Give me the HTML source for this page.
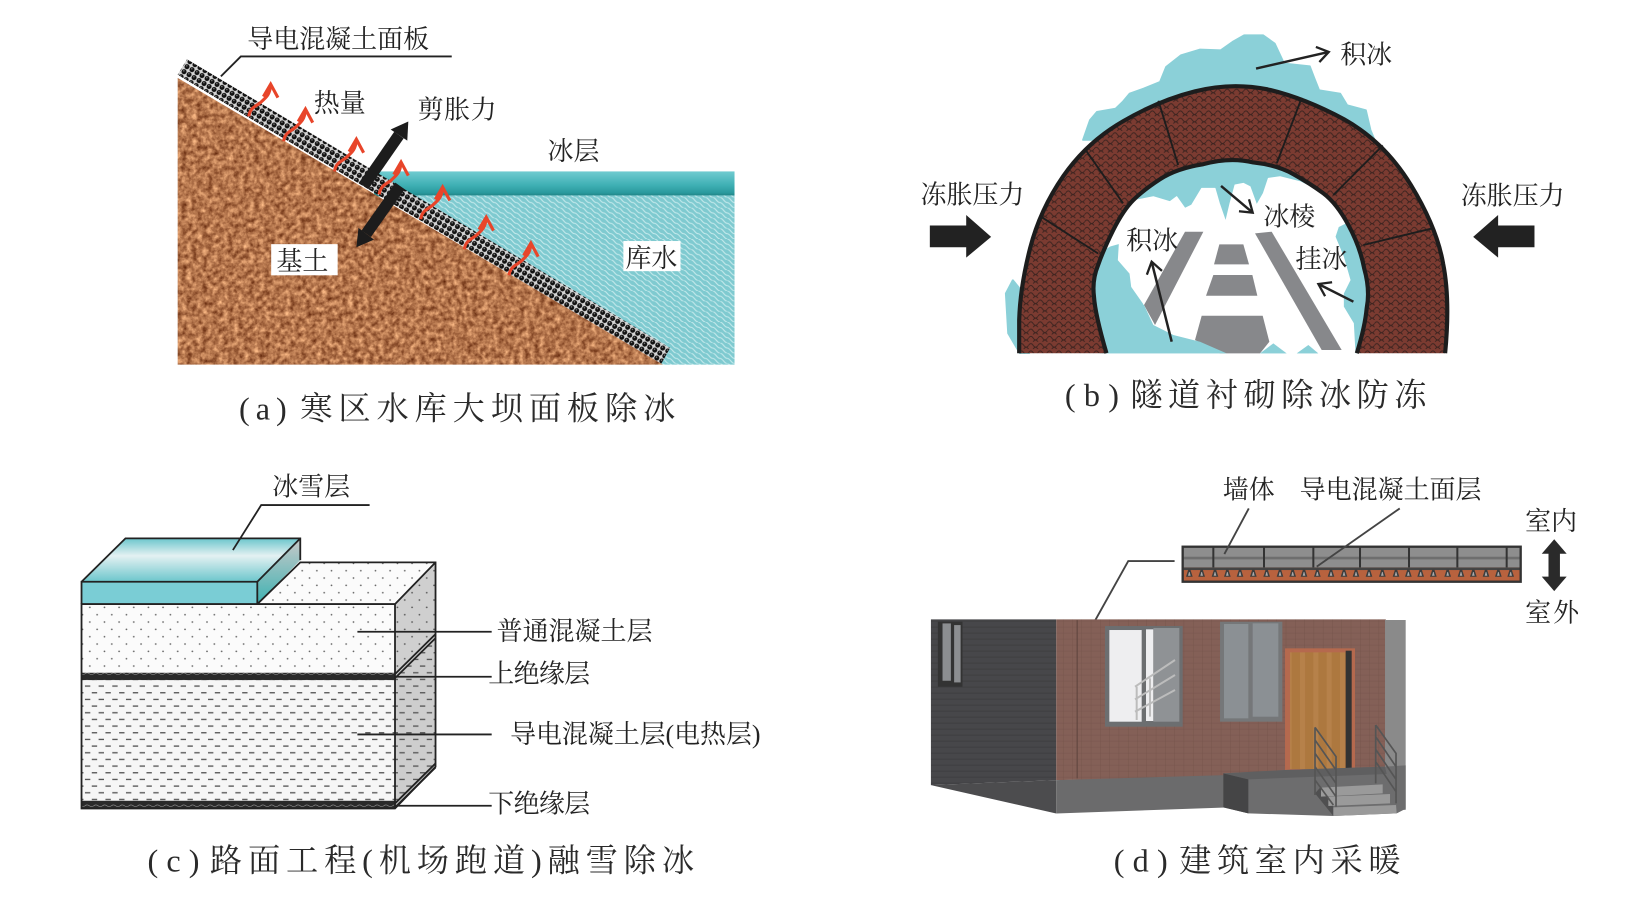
<!DOCTYPE html>
<html lang="zh"><head><meta charset="utf-8"><title>导电混凝土应用</title>
<style>
html,body{margin:0;padding:0;background:#fff;width:1628px;height:900px;overflow:hidden}
svg{display:block}
text{font-family:"Liberation Serif","Noto Serif CJK SC",serif;fill:#222;font-size:25px}
.cap{font-size:31px;fill:#2a2a2a}
.n{vector-effect:non-scaling-stroke}
</style></head><body>
<svg width="1628" height="900" viewBox="0 0 1567 866.3" xmlns="http://www.w3.org/2000/svg">
<defs>
<filter id="soil" x="0" y="0" width="100%" height="100%" color-interpolation-filters="sRGB">
<feTurbulence type="fractalNoise" baseFrequency=".2" numOctaves="3" seed="4"/>
<feColorMatrix values=".75 0 0 0 .33  .72 0 0 0 .1  .6 0 0 0 0  0 0 0 0 1"/>
<feComposite in2="SourceAlpha" operator="in"/>
</filter>
<pattern id="water" width="14" height="10" patternUnits="userSpaceOnUse">
<rect width="14" height="10" fill="#7fcad0"/>
<path d="M0,0C3,0 4,5 7,5S11,10 14,10M7,0C10,0 11,5 14,5M0,5C3,5 4,10 7,10" fill="none" stroke="#c5eaec" stroke-width="1"/>
</pattern>
<pattern id="dots" width="5.6" height="5.6" patternUnits="userSpaceOnUse" patternTransform="rotate(30.6)">
<rect width="5.6" height="5.6" fill="#d5d5d5"/>
<circle cx="2.8" cy="2.8" r="2.4" fill="#111"/>
<circle cx="2.2" cy="2.2" r=".7" fill="#888"/>
</pattern>
<pattern id="brick" width="9" height="7" patternUnits="userSpaceOnUse">
<rect width="9" height="7" fill="#7b3b31"/>
<path d="M0 3.500q2.200-3.500 4.500 0t4.500 0M-4.500 7q2.200-3.500 4.500 0t4.500 0 4.500 0" fill="none" stroke="#3d2420" stroke-width=".9"/>
</pattern>
<pattern id="cdots" width="30" height="44" patternUnits="userSpaceOnUse">
<rect width="30" height="44" fill="#fbfbfb"/>
<ellipse cx="7" cy="10" rx="1.8" ry="2.6" fill="#666"/>
<ellipse cx="22" cy="32" rx="1.8" ry="2.6" fill="#666"/>
</pattern>
<pattern id="sdots" width="30" height="44" patternUnits="userSpaceOnUse">
<rect width="30" height="44" fill="#cfcfcf"/>
<ellipse cx="7" cy="10" rx="1.8" ry="2.6" fill="#555"/>
<ellipse cx="22" cy="32" rx="1.8" ry="2.6" fill="#555"/>
</pattern>
<pattern id="dash" width="28" height="40" patternUnits="userSpaceOnUse">
<rect width="28" height="40" fill="#f6f6f6"/>
<rect x="2" y="6" width="11" height="4" fill="#555"/>
<rect x="16" y="26" width="11" height="4" fill="#555"/>
</pattern>
<pattern id="sdash" width="28" height="40" patternUnits="userSpaceOnUse">
<rect width="28" height="40" fill="#cdcdcd"/>
<rect x="2" y="6" width="11" height="4" fill="#555"/>
<rect x="16" y="26" width="11" height="4" fill="#555"/>
</pattern>
<pattern id="band" width="18" height="22" patternUnits="userSpaceOnUse">
<rect width="18" height="22" fill="#2a2a2a"/>
<path d="M0 11q4.500-5 9 0t9 0" fill="none" stroke="#aaa" stroke-width="1.500"/>
</pattern>
<pattern id="bw" width="20" height="18" patternUnits="userSpaceOnUse">
<rect width="20" height="18" fill="#846057"/>
<path d="M0 9H20M10 0V18" stroke="#74544b" stroke-width="1"/>
</pattern>
<pattern id="dw" width="20" height="18" patternUnits="userSpaceOnUse">
<rect width="20" height="18" fill="#47474a"/>
<path d="M0 9H20" stroke="#3a3a3c" stroke-width="2"/>
</pattern>
<pattern id="doorp" width="40" height="20" patternUnits="userSpaceOnUse">
<rect width="40" height="20" fill="#ad783f"/><rect x="0" width="15" height="20" fill="#b6814a"/>
</pattern>
<linearGradient id="ice1" x1="0" y1="0" x2="0" y2="1">
<stop offset="0" stop-color="#70cbd0"/><stop offset=".55" stop-color="#3fb0b4"/><stop offset=".85" stop-color="#2a9a9e"/><stop offset="1" stop-color="#1e7f80"/>
</linearGradient>
<linearGradient id="ice2" x1="0" y1="0" x2="0" y2="1">
<stop offset="0" stop-color="#6cc6cc"/><stop offset=".4" stop-color="#e4f1f2"/><stop offset="1" stop-color="#6cc6cc"/>
</linearGradient>
<linearGradient id="ice3" x1="0" y1="0" x2="0" y2="1">
<stop offset="0" stop-color="#c9c9c9"/><stop offset="1" stop-color="#3db2b2"/>
</linearGradient>
<g id="heat" fill="none" stroke="#e8452a" stroke-width="3">
<path d="M0 0C1-9 8-10 12-14C16-18 20-20 21-30"/><path d="M14-19L21-31L28-18"/>
</g>
<g id="tri"><polygon points="-10,140 -3,118 3,118 10,140" fill="#3d3d3d"/><polygon points="-4,137 -1,126 1,126 4,137" fill="#a9a9a9"/></g>
<marker id="oh" markerWidth="18" markerHeight="18" refX="14" refY="9" orient="auto" markerUnits="userSpaceOnUse">
<path d="M3 1.500L14 9L3 16.500" fill="none" stroke="#222" stroke-width="2.200"/>
</marker>
</defs>

<!-- Panel a -->
<rect x="360" y="165" width="347" height="24" fill="url(#ice1)"/>
<polygon points="380,188 707,188 707,351 630,351" fill="url(#water)"/>
<polygon points="171,72 636,351 645,335 180,57" fill="url(#dots)"/>
<polygon points="171,75 638,351 171,351" fill="#b5794f" filter="url(#soil)"/>
<polyline points="212.600,73.500 231.800,54.300 434.800,54.300" fill="none" stroke="#222" stroke-width="1.800"/>
<use href="#heat" x="239.500" y="112"/><use href="#heat" x="273" y="136"/><use href="#heat" x="322" y="165"/><use href="#heat" x="365" y="187"/><use href="#heat" x="405" y="211"/><use href="#heat" x="447" y="240"/><use href="#heat" x="490" y="265"/>
<line x1="350" y1="179" x2="384" y2="130" stroke="#1c1c1c" stroke-width="11"/>
<polygon points="393,117 392,135.400 376,124.600" fill="#1c1c1c"/>
<line x1="385" y1="179" x2="352.500" y2="225" stroke="#1c1c1c" stroke-width="11"/>
<polygon points="343,238 360,230.600 345,219.400" fill="#1c1c1c"/>
<rect x="261" y="235" width="64" height="30" fill="#fff"/>
<rect x="600" y="232" width="55" height="29" fill="#fff"/>
<text x="238" y="46" textLength="175">导电混凝土面板</text>
<text x="302" y="108" textLength="50">热量</text>
<text x="402" y="114" textLength="76">剪胀力</text>
<text x="527" y="154" textLength="50">冰层</text>
<text x="266" y="260" textLength="50">基土</text>
<text x="602" y="257" textLength="50">库水</text>
<text class="cap" x="230" y="404" textLength="46">(a)</text>
<text class="cap" x="289" y="404" textLength="361">寒区水库大坝面板除冰</text>

<!-- Panel b -->
<g transform="translate(862.4 0) scale(.45 .3209)" fill="#8bd0d8" stroke="#8bd0d8" stroke-width="4" stroke-linejoin="round">
<polygon points="400,420 415,360 430,335 470,325 485,305 500,280 530,265 565,245 578,200 610,165 650,148 695,150 720,125 745,105 785,105 810,130 830,190 885,198 895,235 905,270 950,280 965,315 1005,330 1015,390 1030,440 720,420"/>
<polygon points="265,1060 240,1000 235,880 250,840 285,900 285,1060"/>
</g>
<path d="M1065,340Q1054,302 1053,285.500Q1051,269.500 1057,255Q1062,240.600 1071.600,221.300Q1081.300,202.100 1090.900,192.500Q1100.500,182.900 1116.500,172.500Q1132.600,162 1158.300,158Q1184,151 1206.500,156.400Q1228.900,158.800 1244.900,167.600Q1260.900,176.500 1273.700,186Q1286.600,195.700 1297.800,216.500Q1309.100,237.400 1313,258Q1319,279.100 1315.500,296.700Q1313.900,314.400 1306,340Z" fill="#8bd0d8"/>
<g transform="translate(1020.3 134.8) scale(.32086)">
<polygon fill="#fff" stroke="#fff" stroke-width="3" stroke-linejoin="round" points="200,205 230,180 280,170 330,185 350,170 375,205 395,195 425,145 465,145 478,190 497,245 510,190 525,135 550,130 570,140 590,195 610,160 625,115 660,110 720,125 790,160 830,190 865,245 835,260 825,290 850,350 870,420 850,460 850,500 880,550 885,640 775,640 745,615 710,640 680,640 640,610 600,640 500,640 420,605 340,585 280,555 250,490 215,440 210,400 175,360 178,310 150,318 130,330"/>
<g fill="#87888b">
<polygon points="375,275 430,275 285,555 252,495"/>
<polygon points="585,280 635,275 845,630 785,630"/>
<polygon points="478,313 550,313 567,373 462,373"/>
<polygon points="460,405 577,405 592,467 438,467"/>
<polygon points="425,527 608,527 628,605 600,640 480,640 405,600"/>
</g>
<polygon fill="#8bd0d8" points="600,640 640,610 680,640"/>
<polygon fill="#8bd0d8" points="710,640 745,615 775,640"/>
<polygon fill="#8bd0d8" points="252,495 280,555 340,585 420,605 500,640 120,640 100,450"/>
</g>
<path fill-rule="evenodd" fill="url(#brick)" d="M981,340L981,308Q982,276 991.500,239Q1001,202 1023.500,169.500Q1046,137 1081,116.700Q1116,96.500 1150,88Q1185,79 1220,86Q1255,94 1294,115Q1333,137 1358,178Q1383,219 1389,253.500Q1396,288 1391,340ZM1065,340Q1054,302 1053,285.500Q1051,269.500 1057,255Q1062,240.600 1071.600,221.300Q1081.300,202.100 1090.900,192.500Q1100.500,182.900 1116.500,172.500Q1132.600,162 1158.300,158Q1184,151 1206.500,156.400Q1228.900,158.800 1244.900,167.600Q1260.900,176.500 1273.700,186Q1286.600,195.700 1297.800,216.500Q1309.100,237.400 1313,258Q1319,279.100 1315.500,296.700Q1313.900,314.400 1306,340Z"/>
<g fill="none" stroke="#1d1d1d">
<path stroke-width="4" d="M981,340L981,308Q982,276 991.500,239Q1001,202 1023.500,169.500Q1046,137 1081,116.700Q1116,96.500 1150,88Q1185,79 1220,86Q1255,94 1294,115Q1333,137 1358,178Q1383,219 1389,253.500Q1396,288 1391,340"/>
<path stroke-width="4" d="M1065,340Q1054,302 1053,285.500Q1051,269.500 1057,255Q1062,240.600 1071.600,221.300Q1081.300,202.100 1090.900,192.500Q1100.500,182.900 1116.500,172.500Q1132.600,162 1158.300,158Q1184,151 1206.500,156.400Q1228.900,158.800 1244.900,167.600Q1260.900,176.500 1273.700,186Q1286.600,195.700 1297.800,216.500Q1309.100,237.400 1313,258Q1319,279.100 1315.500,296.700Q1313.900,314.400 1306,340"/>
<path stroke-width="1.800" d="M1115,97L1134,158.800M1253,94L1229,157M1331,140L1283.400,187.700M1378,220L1312.300,235.800M1044,143L1081,195.700M1001,208L1057,244"/>
</g>
<g stroke="#222" stroke-width="2.400" fill="none">
<line x1="1209" y1="66" x2="1279" y2="50" marker-end="url(#oh)"/>
<line x1="1175.300" y1="179" x2="1205.800" y2="204.700" marker-end="url(#oh)"/>
<line x1="1302.700" y1="290.400" x2="1269" y2="273.400" marker-end="url(#oh)"/>
<line x1="1127.800" y1="328.900" x2="1108.500" y2="251.900" marker-end="url(#oh)"/>
</g>
<polygon points="895,217 930,217 930,207 954,228 930,248 930,238 895,238" fill="#222"/>
<polygon points="1477,217 1442,217 1442,207 1418,228 1442,248 1442,238 1477,238" fill="#222"/>
<text x="1290" y="61" textLength="50">积冰</text>
<text x="886" y="196" textLength="100">冻胀压力</text>
<text x="1406" y="197" textLength="100">冻胀压力</text>
<text x="1216" y="217" textLength="50">冰棱</text>
<text x="1084" y="240" textLength="50">积冰</text>
<text x="1247" y="258" textLength="50">挂冰</text>
<text class="cap" x="1025" y="391" textLength="52">(b)</text>
<text class="cap" x="1088" y="391" textLength="285">隧道衬砌除冰防冻</text>

<!-- Panel c -->
<g transform="translate(47.9 433.2) scale(.47 .3209)">
<polygon points="425,462 513,337 790,337 707,462" fill="url(#cdots)"/>
<polygon points="707,462 790,337 790,700 707,820" fill="url(#sdots)"/>
<polygon points="707,680 790,560 790,950 707,1075" fill="url(#sdash)"/>
<polygon points="65,395 155,265 513,265 425,395" fill="url(#ice2)"/>
<polygon points="425,395 513,265 513,330 425,462" fill="url(#ice3)"/>
<rect x="65" y="395" width="360" height="67" fill="#7acdd5"/>
<rect x="65" y="462" width="642" height="206" fill="url(#cdots)"/>
<rect x="65" y="690" width="642" height="362" fill="url(#dash)"/>
<rect x="65" y="668" width="642" height="22" fill="url(#band)"/>
<rect x="65" y="1052" width="642" height="24" fill="url(#band)"/>
<g fill="none" stroke="#222">
<path class="n" stroke-width="1.800" d="M65,395L155,265H513V330M425,395L513,265M425,462V395H65V462"/>
<path class="n" stroke-width="1.800" d="M425,462L513,337H790V950L707,1075H65V462H707V1075M707,462L790,337"/>
<path class="n" stroke-width="1.800" d="M707,672L790,552M707,684L790,564M707,1060L790,940M707,1072L790,952"/>
<path class="n" stroke-width="1.800" d="M630,545H905M707,680H905M630,853H905M707,1067H905M375,300L433,165H655"/>
</g>
</g>
<text x="262" y="477" textLength="75">冰雪层</text>
<text x="478" y="616" textLength="150">普通混凝土层</text>
<text x="470" y="657" textLength="98">上绝缘层</text>
<text x="491" y="715" textLength="241">导电混凝土层(电热层)</text>
<text x="470" y="782" textLength="98">下绝缘层</text>
<text class="cap" x="142" y="839" textLength="50">(c)</text>
<text class="cap" x="202" y="839" textLength="466">路面工程(机场跑道)融雪除冰</text>

<!-- Panel d: wall section -->
<g transform="translate(1135.8 510.2) scale(.32086)">
<rect x="8" y="50" width="1014" height="62" fill="#8e8e8e"/>
<rect x="8" y="80" width="1014" height="8" fill="#6e6e6e"/>
<rect x="8" y="112" width="1014" height="43" fill="#b8623e"/>
<rect x="8" y="112" width="1014" height="8" fill="#444"/>
<use href="#tri" x="28"/><use href="#tri" x="65"/><use href="#tri" x="105"/><use href="#tri" x="142"/><use href="#tri" x="180"/><use href="#tri" x="220"/><use href="#tri" x="260"/><use href="#tri" x="300"/><use href="#tri" x="338"/><use href="#tri" x="372"/><use href="#tri" x="412"/><use href="#tri" x="453"/><use href="#tri" x="492"/><use href="#tri" x="528"/><use href="#tri" x="567"/><use href="#tri" x="607"/><use href="#tri" x="648"/><use href="#tri" x="685"/><use href="#tri" x="722"/><use href="#tri" x="760"/><use href="#tri" x="803"/><use href="#tri" x="843"/><use href="#tri" x="880"/><use href="#tri" x="918"/><use href="#tri" x="955"/><use href="#tri" x="992"/>
<path fill="none" stroke="#333" stroke-width="6" d="M100,50V112M252,50V112M400,50V112M540,50V112M687,50V112M832,50V112M980,50V112"/>
<rect x="8" y="50" width="1014" height="105" fill="none" stroke="#333" stroke-width="7"/>
</g>
<path fill="none" stroke="#444" stroke-width="1.800" d="M1130.600,540H1086L1045.700,612.300M1202,489.400L1178.500,533.300M1347.300,489.400L1267.400,545.400"/>
<polygon points="1496,519 1508,533 1501.500,533 1501.500,555 1508,555 1496,569 1484,555 1490.500,555 1490.500,533 1484,533" fill="#2a2a2a"/>

<!-- building -->
<g transform="translate(867 433.2) scale(.4468 .3209)">
<polygon points="65,508 335,508 335,990 65,1005" fill="url(#dw)"/>
<polygon points="65,1005 335,990 335,1090" fill="#4c4c4e"/>
<polygon points="335,508 1045,508 1045,975 335,990" fill="url(#bw)"/>
<path class="n" d="M380,510V985" stroke="#5d433c" stroke-width="1" fill="none"/>
<polygon points="335,990 700,975 700,1072 335,1090" fill="#6b6b6c"/>
<rect x="80" y="515" width="53" height="195" fill="#333"/>
<rect x="90" y="520" width="18" height="172" fill="#8c8e91"/><rect x="115" y="525" width="14" height="172" fill="#8c8e91"/>
</g>
<g transform="translate(1058.8 596.8) scale(.32086)">
<polygon points="855,0 917,0 917,570 855,565" fill="#8a8a8a"/>
<rect x="15" y="18" width="233" height="302" fill="#6c6e70"/>
<rect x="28" y="30" width="97" height="275" fill="#eeeef0"/>
<rect x="138" y="28" width="22" height="275" fill="#eeeef0"/>
<rect x="160" y="24" width="78" height="281" fill="#8f9295"/>
<path fill="none" stroke="#bcbcbc" stroke-width="6" d="M105,200L225,120M105,238L225,165M105,275L225,210M110,200V300M150,175V290"/>
<rect x="360" y="5" width="187" height="300" fill="#757779"/>
<rect x="372" y="12" width="73" height="283" fill="#8b9094"/>
<rect x="458" y="10" width="77" height="280" fill="#8b9094"/>
<rect x="555" y="85" width="210" height="367" fill="#b5694e"/>
<rect x="570" y="97" width="167" height="350" fill="url(#doorp)"/>
<rect x="737" y="92" width="18" height="355" fill="#333"/>
<polygon points="370,460 555,450 855,440 917,436 917,566 890,580 700,588 445,580 370,562" fill="#6d6d6e"/>
<polygon points="370,460 445,478 860,462 855,440 555,450" fill="#5f5f60"/>
<polygon points="370,460 445,478 445,580 370,562" fill="#454546"/>
<polygon points="645,520 700,588 700,560 663,500" fill="#4f4f50"/>
<polygon points="663,503 848,493 848,520 663,530" fill="#9a9a9a"/>
<polygon points="685,530 870,522 870,550 685,558" fill="#9a9a9a"/>
<polygon points="700,562 888,555 890,580 700,588" fill="#9a9a9a"/>
<path fill="none" stroke="#555" stroke-width="5" d="M645,322L708,410V560M645,322V525M645,360L708,450M645,400L708,490M645,440L708,530M645,480L700,555M827,315L888,400V550M827,315V490M827,350L888,440M827,388L888,478M827,425L888,515"/>
</g>
<text x="1177" y="480" textLength="50">墙体</text>
<text x="1251" y="480" textLength="175">导电混凝土面层</text>
<text x="1468" y="510" textLength="50">室内</text>
<text x="1468" y="598" textLength="52">室外</text>
<text class="cap" x="1072" y="839" textLength="52">(d)</text>
<text class="cap" x="1135" y="839" textLength="213">建筑室内采暖</text>
</svg>
</body></html>
